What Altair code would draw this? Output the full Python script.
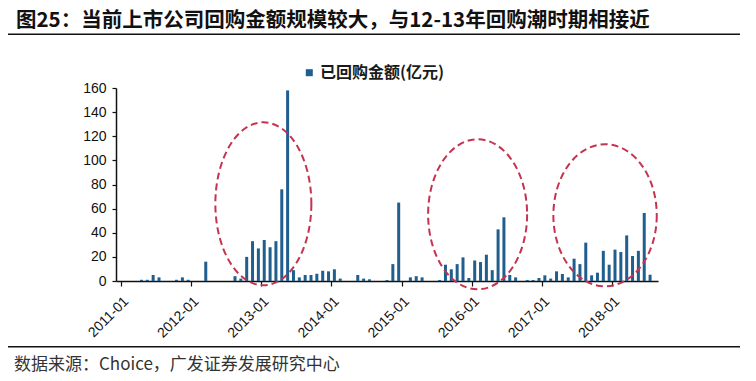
import altair as alt
import pandas as pd

# ---------------- data ----------------
months = [f"{y}-{m:02d}" for y in range(2011, 2019) for m in range(1, 13)][:91]
values = [
    0, 0, 0, 1, 1, 5, 3, 0, 0, 1, 3, 1,            # 2011
    0, 0, 16, 0, 0, 0, 0, 4, 2, 20, 33, 27,        # 2012
    34, 28, 33, 76, 158, 9, 3, 5, 5, 6, 8.5, 8,    # 2013
    9.7, 2, 0, 0, 5, 2, 1.4, 0, 0, 0.8, 14, 65,    # 2014
    0, 3, 4, 3, 0, 0, 0.8, 13.5, 9.7, 14, 19.6, 2.5,  # 2015
    17, 15.7, 21.8, 9, 42.8, 52.8, 5, 3, 0, 0.8, 0.8, 2.5,  # 2016
    4.7, 2, 8, 5.8, 3, 18.5, 14, 31.8, 4.7, 6.9, 25, 13.5,  # 2017
    26, 24, 37.8, 20.7, 25, 56.4, 5.2,             # 2018
]
tick_labels = ["2011-01", "2012-01", "2013-01", "2014-01",
               "2015-01", "2016-01", "2017-01", "2018-01"]
y_ticks = [0, 20, 40, 60, 80, 100, 120, 140, 160]

series_name = "已回购金额(亿元)"
title_text = "图25：当前上市公司回购金额规模较大，与12-13年回购潮时期相接近"
source_text = "数据来源：Choice，广发证券发展研究中心"

# ellipse annotations (centre in month index / value units, radii in px)
ell_cx = [24.35, 61.0, 82.8]
ell_cy = [64.0, 55.3, 54.5]
ell_rx = [48.0, 49.5, 51.7]
ell_ry = [81.5, 75.0, 71.0]

# ---------------- styling ----------------
BLUE = "#205e8e"
RED = "#c5334f"
W, H = 542, 193
PAD = {"left": 108, "top": 80, "right": 90, "bottom": 92}

df = pd.DataFrame({"month": months, "value": values, "idx": list(range(len(months)))})
df = df[df["value"] > 0]

xscale = alt.Scale(domain=[0, len(months)], nice=False, zero=False)
yscale = alt.Scale(domain=[0, 160], nice=False)

label_expr = "[" + ",".join(f"'{t}'" for t in tick_labels) + "][round(datum.value/12)]"

x_axis = alt.Axis(values=[12 * i for i in range(len(tick_labels))],
                  labelExpr=label_expr, labelAngle=-45, title=None,
                  grid=False, domainColor="#111", domainWidth=1.5,
                  tickColor="#111", tickSize=5, tickWidth=1.2,
                  labelFont="Liberation Sans", labelFontSize=14,
                  labelColor="#111", labelPadding=8)
y_axis = alt.Axis(values=y_ticks, title=None, grid=False,
                  domainColor="#111", domainWidth=1.5,
                  tickColor="#111", tickSize=4, tickWidth=1.2,
                  labelFont="Liberation Sans", labelFontSize=14,
                  labelColor="#111", labelPadding=6)

bars = alt.Chart(df).transform_calculate(
    xpos="datum.idx + 0.5"
).mark_bar(size=3, color=BLUE).encode(
    x=alt.X("xpos:Q", scale=xscale, axis=x_axis),
    y=alt.Y("value:Q", scale=yscale, axis=y_axis),
    tooltip=["month:N", "value:Q"],
)

k = 0.5523
def ellipse_path(a):
    return (f"M {a} 0 C {a} {k} {k*a} 1 0 1 C {-k*a} 1 {-a} {k} {-a} 0 "
            f"C {-a} {-k} {-k*a} -1 0 -1 C {k*a} -1 {a} {-k} {a} 0 Z")

ell_df = pd.DataFrame({
    "cx": ell_cx, "cy": ell_cy,
    "shape": [ellipse_path(rx / ry) for rx, ry in zip(ell_rx, ell_ry)],
    "size": [(2 * ry) ** 2 for ry in ell_ry],
})
ellipses = alt.Chart(ell_df).mark_point(
    filled=False, color=RED, strokeWidth=2, strokeDash=[7, 4], opacity=1
).encode(
    x=alt.X("cx:Q", scale=xscale, axis=x_axis),
    y=alt.Y("cy:Q", scale=yscale, axis=y_axis),
    shape=alt.Shape("shape:N", scale=None),
    size=alt.Size("size:Q", scale=None),
)

one = pd.DataFrame({"t": [0]})

legend_sq = alt.Chart(one).mark_square(color=BLUE, opacity=1, size=49).encode(
    x=alt.value(193.3), y=alt.value(-15.3))
legend_tx = alt.Chart(pd.DataFrame({"t": [series_name]})).mark_text(
    align="left", baseline="middle", font="Noto Sans CJK SC", fontSize=16,
    fontWeight="bold", color="#1a1a1a").encode(
    x=alt.value(204), y=alt.value(-14.7), text="t:N")

title_tx = alt.Chart(pd.DataFrame({"t": [title_text]})).mark_text(
    align="left", baseline="middle", font="Noto Sans CJK SC", fontSize=20.5,
    fontWeight="bold", color="#111").encode(
    x=alt.value(-100), y=alt.value(-67.3), text="t:N")

title_rule = alt.Chart(one).mark_rule(color="#111", strokeWidth=1.5).encode(
    x=alt.value(-108), x2=alt.value(624), y=alt.value(-53.7))
foot_rule = alt.Chart(one).mark_rule(color="#111", strokeWidth=1.5).encode(
    x=alt.value(-108), x2=alt.value(624), y=alt.value(258.7))

source_tx = alt.Chart(pd.DataFrame({"t": [source_text]})).mark_text(
    align="left", baseline="middle", font="Noto Sans CJK SC", fontSize=17,
    color="#333").encode(
    x=alt.value(-102), y=alt.value(276.5), text="t:N")

chart = alt.layer(
    bars, ellipses, legend_sq, legend_tx, title_tx, title_rule, foot_rule, source_tx
).properties(
    width=W, height=H,
    autosize=alt.AutoSizeParams(type="none"),
    padding=PAD,
    background="white",
).configure_view(stroke=None)

chart.save("out.html", embed_options={"renderer": "svg", "actions": False})
